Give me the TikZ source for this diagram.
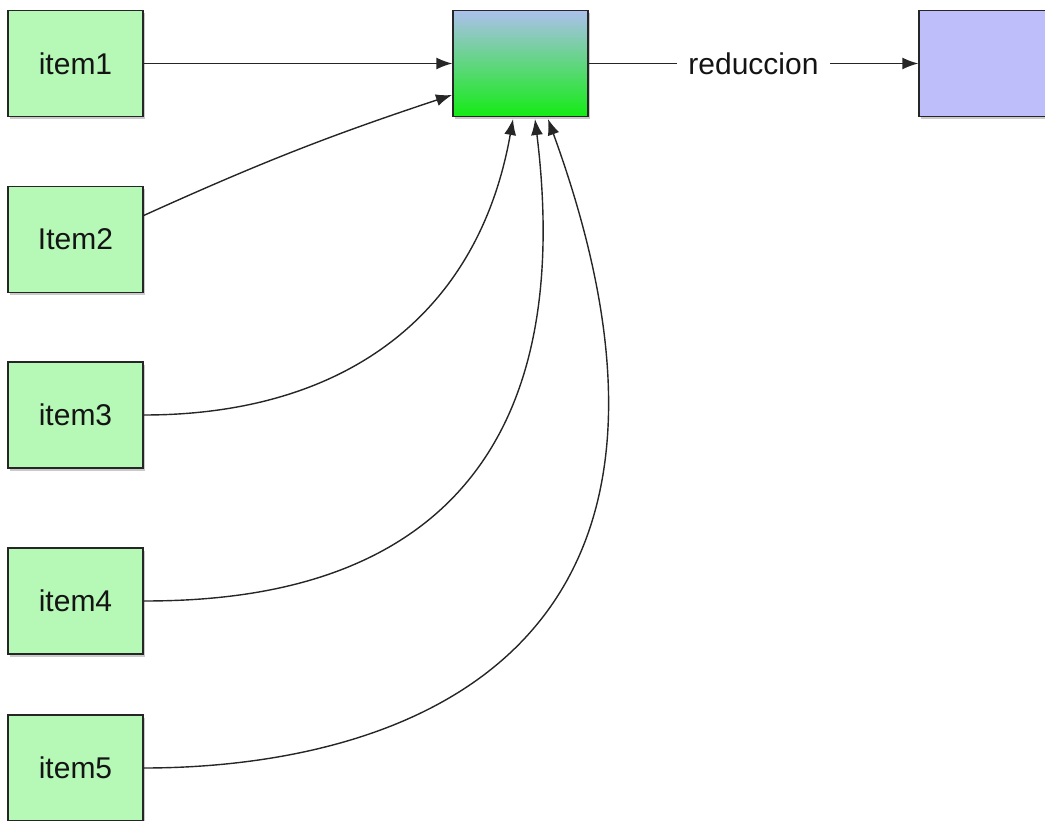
\documentclass[tikz,border=0pt]{standalone}
\usepackage{fontspec}
\setmainfont{Liberation Sans}
\usetikzlibrary{shadows,arrows.meta}
\definecolor{itemfill}{RGB}{182,248,182}
\definecolor{resfill}{RGB}{190,190,250}
\definecolor{gtop}{RGB}{172,192,236}
\definecolor{gbot}{RGB}{20,236,20}
\definecolor{txt}{RGB}{20,20,20}
\tikzset{
  box/.style={draw=black!85, line width=1.4pt, minimum width=135pt, minimum height=106pt,
    inner sep=0pt, drop shadow={shadow xshift=2pt, shadow yshift=-3pt, opacity=0.35, fill=black!60},
    font=\fontsize{30}{36}\selectfont, text=txt},
  itembox/.style={box, fill=itemfill},
  link/.style={line width=1.4pt, draw=black!85, -{Latex[length=16pt,width=12pt]}},
}
\begin{document}
\begin{tikzpicture}[x=1pt,y=1pt]
\clip (0,0) rectangle (1045,-821);
\node[itembox] (i1) at (75.5,-63.5) {item1};
\node[itembox] (i2) at (75.5,-239.5) {Item2};
\node[itembox] (i3) at (75.5,-415) {item3};
\node[itembox] (i4) at (75.5,-601) {item4};
\node[itembox] (i5) at (75.5,-768) {item5};
\node[box, top color=gtop, bottom color=gbot] (mid) at (520.5,-63.5) {};
\node[box, fill=resfill] (res) at (986.5,-63.5) {};
\coordinate (t2) at (452,-95);
\coordinate (t3) at (513,-119);
\coordinate (t4) at (535,-119);
\coordinate (t5) at (548,-119);
\draw[link] (i1.east) -- (mid.west);
\draw[link] ([yshift=24pt]i2.east) to[bend left=3] (t2);
\draw[link] (i3.east) to[out=0, in=-100, out distance=200pt, in distance=200pt] (t3);
\draw[link] (i4.east) to[out=0, in=-83, out distance=150pt, in distance=450pt] (t4);
\draw[link] (i5.east) to[out=0, in=-70, out distance=220pt, in distance=600pt] (t5);
\draw[link] (mid.east) -- node[fill=white, inner xsep=11pt, inner ysep=2pt, font=\fontsize{30}{36}\selectfont, text=txt] (lab) {reduccion} (res.west);
\end{tikzpicture}
\end{document}
